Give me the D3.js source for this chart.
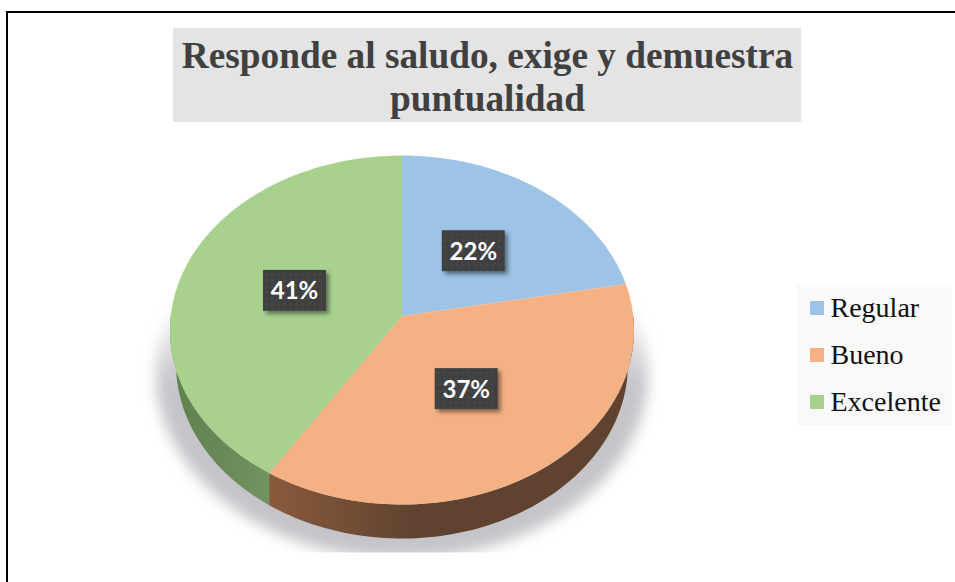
<!DOCTYPE html>
<html>
<head>
<meta charset="utf-8">
<script src="https://d3js.org/d3.v7.min.js"></script>
<style>
  html, body { margin: 0; padding: 0; background: #fff; }
  svg { display: block; }
  .title { font: bold 37.3px "Liberation Serif", serif; fill: #404040; text-anchor: middle; }
  .legend-text { font: 28px "Liberation Serif", serif; fill: #111; }
  .label { font: bold 24px Lato, sans-serif; fill: #fff; text-anchor: middle; }
</style>
</head>
<body>
<svg width="955" height="582"></svg>
<script>
const categories = ["Regular", "Bueno", "Excelente"];
const percentages = [22, 37, 41];
const titleLines = ["Responde al saludo, exige y demuestra", "puntualidad"];
const topColors = ["#9dc3e6", "#f4b183", "#a9d18e"];
const sideEdge = ["#5d7a96", "#8a5a3c", "#5f7f4c"];
const sideInner = ["#5d7a96", "#5f4330", "#729460"];

const svg = d3.select("svg"),
    width = +svg.attr("width"),
    pieBox = {cx: 402, cy: 330, rx: 232, ry: 174.5, depth: 34, inset: 6},
    tilt = 0.08; // pushes the apex up like the perspective in the original

const defs = svg.append("defs");

defs.append("filter").attr("id", "blur")
    .attr("x", "-20%").attr("y", "-20%").attr("width", "140%").attr("height", "140%")
  .append("feGaussianBlur").attr("stdDeviation", 7);

defs.append("filter").attr("id", "labelShadow")
    .attr("x", "-20%").attr("y", "-20%").attr("width", "150%").attr("height", "150%")
  .append("feDropShadow").attr("dx", 3).attr("dy", 3).attr("stdDeviation", 2)
    .attr("flood-color", "#000").attr("flood-opacity", 0.45);

defs.append("clipPath").attr("id", "shadowClip")
  .append("rect").attr("x", 0).attr("y", 0).attr("width", width).attr("height", 552.5);

const shadowFade = defs.append("linearGradient").attr("id", "shadowFade")
    .attr("gradientUnits", "userSpaceOnUse")
    .attr("x1", 0).attr("x2", 0).attr("y1", 300).attr("y2", 385);
shadowFade.append("stop").attr("offset", 0).attr("stop-color", "#c4c4c9").attr("stop-opacity", 0);
shadowFade.append("stop").attr("offset", 1).attr("stop-color", "#c4c4c9").attr("stop-opacity", 1);

const dots = defs.append("pattern").attr("id", "dots")
    .attr("width", 6).attr("height", 6).attr("patternUnits", "userSpaceOnUse");
dots.append("rect").attr("width", 6).attr("height", 6).attr("fill", "#404040");
dots.append("rect").attr("x", 1).attr("y", 1).attr("width", 2).attr("height", 2).attr("fill", "#4c4c4c");

// frame, top and left only reach the picture
svg.append("path")
    .attr("d", d3.line()([[7, 582], [7, 12], [955, 12]]))
    .attr("fill", "none").attr("stroke", "#000").attr("stroke-width", 2);

// title
svg.append("rect")
    .attr("x", 173).attr("y", 28).attr("width", 628).attr("height", 94)
    .attr("fill", "#e4e4e4");
svg.selectAll(".title").data(titleLines).enter().append("text")
    .attr("class", "title")
    .attr("x", 487.5)
    .attr("y", (d, i) => 68 + i * 43)
    .text(d => d);

// projected disc: pie angle (0 at 12 o'clock) to screen
function project(a, r = 1) {
  const u = r * Math.sin(a), v = r * Math.cos(a),
      w = 1 + tilt * v;
  return [
    pieBox.cx + pieBox.rx * u * Math.sqrt(1 - tilt * tilt) / w,
    pieBox.cy - pieBox.ry * (v + tilt) / w
  ];
}

function rimAngles(a0, a1) {
  const n = Math.max(2, Math.ceil(Math.abs(a1 - a0) * 40));
  return d3.range(n + 1).map(i => a0 + (a1 - a0) * i / n);
}

// bottom edge of the wall straight below a rim point, slightly narrower than the top
function bottomPoint(p) {
  const rx = pieBox.rx - pieBox.inset,
      dx = Math.max(-rx, Math.min(rx, p[0] - pieBox.cx)),
      y = pieBox.cy + pieBox.depth + pieBox.ry * Math.sqrt(1 - dx * dx / (rx * rx));
  return [pieBox.cx + dx, y];
}

const line = d3.line();
const pie = d3.pie().sort(null).value(d => d);
const arcs = pie(percentages);

// soft shadow under the disc, cut flat at the bottom as in the original
svg.append("g").attr("clip-path", "url(#shadowClip)")
  .append("ellipse")
    .attr("cx", pieBox.cx)
    .attr("cy", pieBox.cy + 44)
    .attr("rx", pieBox.rx + 14)
    .attr("ry", pieBox.ry + 10)
    .attr("fill", "url(#shadowFade)")
    .attr("filter", "url(#blur)");

// side wall, only the part of each slice facing the viewer
const g = svg.append("g");
arcs.forEach((d, i) => {
  const a0 = Math.max(d.startAngle, Math.PI / 2),
      a1 = Math.min(d.endAngle, Math.PI * 3 / 2);
  if (a1 <= a0) return;
  const rim = rimAngles(a0, a1).map(a => project(a));
  const lower = rim.map(bottomPoint).reverse();
  const x0 = d3.min(rim, p => p[0]), x1 = d3.max(rim, p => p[0]);
  const grad = defs.append("linearGradient").attr("id", "wall" + i)
      .attr("gradientUnits", "userSpaceOnUse")
      .attr("x1", x0).attr("x2", x1).attr("y1", 0).attr("y2", 0);
  grad.append("stop").attr("offset", 0).attr("stop-color", sideEdge[i]);
  grad.append("stop").attr("offset", i === 1 ? 0.4 : 1).attr("stop-color", sideInner[i]);
  g.append("path")
      .attr("d", line(rim.concat(lower)) + "Z")
      .attr("fill", "url(#wall" + i + ")");
});

// top face
g.selectAll(".slice").data(arcs).enter().append("path")
    .attr("class", "slice")
    .attr("fill", (d, i) => topColors[i])
    .attr("d", d => line([project(0, 0)].concat(rimAngles(d.startAngle, d.endAngle).map(a => project(a)))) + "Z");

// data labels
const labelNudge = [[-14, 12], [-17, -17], [24, 3]];
const labelBox = {w: 63, h: 41};
const labels = svg.selectAll(".label-g").data(arcs).enter().append("g")
    .attr("class", "label-g")
    .attr("transform", (d, i) => {
      const p = project((d.startAngle + d.endAngle) / 2, 0.6);
      return "translate(" + (p[0] + labelNudge[i][0]) + "," + (p[1] + labelNudge[i][1]) + ")";
    });
labels.append("rect")
    .attr("x", -labelBox.w / 2).attr("y", -labelBox.h / 2)
    .attr("width", labelBox.w).attr("height", labelBox.h)
    .attr("fill", "url(#dots)")
    .attr("filter", "url(#labelShadow)");
labels.append("text")
    .attr("class", "label")
    .attr("y", 9)
    .text((d, i) => percentages[i] + "%");

// legend
svg.append("rect")
    .attr("x", 797).attr("y", 285).attr("width", 155).attr("height", 141)
    .attr("fill", "#f9f9f9");
const legendY = d3.scalePoint().domain(categories).range([308, 402]);
const legend = svg.selectAll(".legend").data(categories).enter().append("g")
    .attr("class", "legend")
    .attr("transform", d => "translate(810," + legendY(d) + ")");
legend.append("rect")
    .attr("y", -7).attr("width", 14).attr("height", 14)
    .attr("fill", (d, i) => topColors[i]);
legend.append("text")
    .attr("class", "legend-text")
    .attr("x", 20.5).attr("y", 9)
    .text(d => d);
</script>
</body>
</html>
